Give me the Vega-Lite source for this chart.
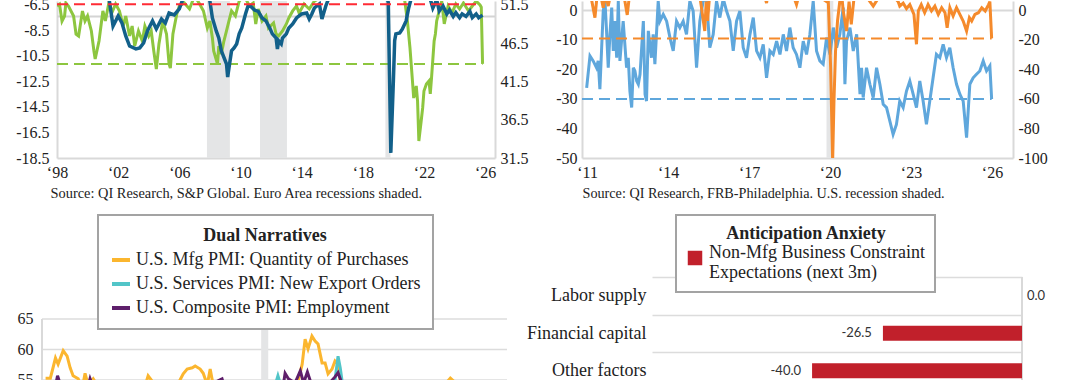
{
  "$schema": "https://vega.github.io/schema/vega-lite/v6.json",
  "background": "white",
  "padding": {"left": 15, "top": -4, "right": 0, "bottom": -8},
  "spacing": 13,
  "resolve": {"scale": {"color": "independent"}, "legend": {"color": "independent"}},
  "config": {
    "view": {"stroke": null},
    "font": "Liberation Serif",
    "locale": {"number": {"decimal": ".", "thousands": ",", "grouping": [3], "currency": ["$", ""], "minus": "-"}},
    "axis": {"labelFont": "Liberation Serif", "labelFontSize": 16, "labelColor": "#222222", "domainColor": "#d9d9d9", "domainWidth": 2, "ticks": false, "grid": false, "labelFlush": false, "labelOverlap": false, "gridColor": "#dcdcdc", "gridWidth": 1.5},
    "legend": {"labelFont": "Liberation Serif", "titleFont": "Liberation Serif", "labelFontSize": 18, "titleFontSize": 18, "titleFontWeight": "bold", "labelColor": "#222222", "titleColor": "#222222", "labelLimit": 400, "titleLimit": 400, "fillColor": "#ffffff", "strokeColor": "#a3a3a3", "titleAnchor": "middle", "strokeWidth": 2}
  },
  "datasets": {
    "tl_rec": [{"d": "2007-10-23", "d2": "2009-04-23"}, {"d": "2011-04-12", "d2": "2013-01-15"}, {"d": "2019-06-25", "d2": "2019-10-23"}],
    "tl_fifty": [{"d": "1998-01-01", "d2": "2026-08-25", "v": 50}],
    "tl_glev": [{"d": "1998-01-01", "d2": "2025-11-01", "v": 43.8}],
    "tl_rlev": [{"d": "1998-01-01", "d2": "2025-10-01", "v": -6.45}],
    "tl_blue": [
      {"d": "1998-01", "v": -5.0}, {"d": "1998-09", "v": -4.6}, {"d": "1999-06", "v": -4.2}, {"d": "2000-03", "v": -3.8}, {"d": "2000-12", "v": -4.5}, {"d": "2001-04", "v": -5.3},
      {"d": "2001-06", "v": -6.1}, {"d": "2001-09", "v": -8.15}, {"d": "2002-01", "v": -7.36}, {"d": "2002-04", "v": -7.9}, {"d": "2002-07", "v": -8.93}, {"d": "2002-10", "v": -9.72},
      {"d": "2003-03", "v": -9.95}, {"d": "2003-06", "v": -9.87}, {"d": "2003-09", "v": -9.48}, {"d": "2003-12", "v": -8.54}, {"d": "2004-04", "v": -7.75}, {"d": "2004-07", "v": -8.38},
      {"d": "2004-11", "v": -7.6}, {"d": "2005-02", "v": -7.91}, {"d": "2005-05", "v": -7.13}, {"d": "2005-09", "v": -7.28}, {"d": "2006-01", "v": -6.81}, {"d": "2006-04", "v": -6.0},
      {"d": "2006-10", "v": -5.2}, {"d": "2007-04", "v": -4.4}, {"d": "2007-09", "v": -5.0}, {"d": "2008-01", "v": -6.19}, {"d": "2008-03", "v": -7.52}, {"d": "2008-06", "v": -8.54},
      {"d": "2008-08", "v": -9.09}, {"d": "2008-10", "v": -10.1}, {"d": "2009-02", "v": -11.13}, {"d": "2009-03", "v": -12.15}, {"d": "2009-04", "v": -11.44}, {"d": "2009-06", "v": -10.1},
      {"d": "2009-08", "v": -9.87}, {"d": "2009-10", "v": -9.56}, {"d": "2009-12", "v": -8.77}, {"d": "2010-02", "v": -8.3}, {"d": "2010-05", "v": -7.21}, {"d": "2010-07", "v": -6.58},
      {"d": "2010-09", "v": -6.6}, {"d": "2010-12", "v": -6.9}, {"d": "2011-03", "v": -7.0}, {"d": "2011-06", "v": -7.52}, {"d": "2011-09", "v": -7.75}, {"d": "2011-12", "v": -8.3},
      {"d": "2012-02", "v": -8.77}, {"d": "2012-05", "v": -9.09}, {"d": "2012-06", "v": -9.95}, {"d": "2012-07", "v": -9.32}, {"d": "2012-09", "v": -9.56}, {"d": "2012-10", "v": -9.09},
      {"d": "2013-01", "v": -8.77}, {"d": "2013-03", "v": -8.3}, {"d": "2013-06", "v": -7.99}, {"d": "2013-09", "v": -7.52}, {"d": "2013-11", "v": -7.36}, {"d": "2014-01", "v": -7.21},
      {"d": "2014-05", "v": -7.13}, {"d": "2014-07", "v": -7.6}, {"d": "2014-09", "v": -7.21}, {"d": "2014-11", "v": -6.74}, {"d": "2015-03", "v": -6.42}, {"d": "2015-05", "v": -7.6},
      {"d": "2015-08", "v": -6.58}, {"d": "2015-11", "v": -5.8}, {"d": "2016-06", "v": -5.0}, {"d": "2017-03", "v": -4.2}, {"d": "2018-01", "v": -3.9}, {"d": "2018-10", "v": -4.4},
      {"d": "2019-06", "v": -5.6}, {"d": "2019-08", "v": -5.9}, {"d": "2019-09", "v": -6.3}, {"d": "2019-10", "v": -12.0}, {"d": "2019-11", "v": -18.1}, {"d": "2020-01", "v": -12.5},
      {"d": "2020-02", "v": -9.3}, {"d": "2020-03", "v": -8.77}, {"d": "2020-06", "v": -8.7}, {"d": "2020-08", "v": -8.4}, {"d": "2020-11", "v": -7.75}, {"d": "2021-01", "v": -6.74},
      {"d": "2021-03", "v": -6.0}, {"d": "2021-09", "v": -5.4}, {"d": "2022-03", "v": -5.0}, {"d": "2022-08", "v": -6.74}, {"d": "2022-11", "v": -6.1}, {"d": "2023-01", "v": -6.97},
      {"d": "2023-04", "v": -6.58}, {"d": "2023-07", "v": -7.2}, {"d": "2023-09", "v": -6.9}, {"d": "2023-12", "v": -7.4}, {"d": "2024-02", "v": -7.1}, {"d": "2024-05", "v": -7.5},
      {"d": "2024-07", "v": -7.2}, {"d": "2024-10", "v": -7.4}, {"d": "2025-01", "v": -7.0}, {"d": "2025-03", "v": -7.5}, {"d": "2025-06", "v": -7.2}, {"d": "2025-08", "v": -7.5},
      {"d": "2025-11", "v": -7.3}
    ],
    "tl_green": [
      {"d": "1998-01", "v": 51.37}, {"d": "1998-03", "v": 51.6}, {"d": "1998-05", "v": 49.4}, {"d": "1998-07", "v": 50.06}, {"d": "1998-08", "v": 51.76}, {"d": "1998-10", "v": 51.37},
      {"d": "1999-02", "v": 50.06}, {"d": "1999-04", "v": 47.7}, {"d": "1999-06", "v": 47.45}, {"d": "1999-09", "v": 50.7}, {"d": "1999-11", "v": 49.4}, {"d": "2000-01", "v": 50.06},
      {"d": "2000-04", "v": 48.1}, {"d": "2000-06", "v": 45.49}, {"d": "2000-07", "v": 44.44}, {"d": "2000-10", "v": 46.79}, {"d": "2001-01", "v": 50.72}, {"d": "2001-03", "v": 49.41},
      {"d": "2001-06", "v": 52.0}, {"d": "2001-08", "v": 50.45}, {"d": "2001-11", "v": 51.63}, {"d": "2002-02", "v": 50.72}, {"d": "2002-05", "v": 48.75}, {"d": "2002-07", "v": 50.06},
      {"d": "2002-10", "v": 47.45}, {"d": "2002-12", "v": 48.75}, {"d": "2003-02", "v": 46.14}, {"d": "2003-05", "v": 48.1}, {"d": "2003-08", "v": 46.79}, {"d": "2003-10", "v": 48.75},
      {"d": "2004-01", "v": 47.45}, {"d": "2004-03", "v": 48.1}, {"d": "2004-05", "v": 45.49}, {"d": "2004-07", "v": 43.13}, {"d": "2004-09", "v": 46.4}, {"d": "2004-12", "v": 49.41},
      {"d": "2005-03", "v": 47.71}, {"d": "2005-05", "v": 43.79}, {"d": "2005-06", "v": 43.26}, {"d": "2005-08", "v": 47.71}, {"d": "2005-11", "v": 50.32}, {"d": "2006-01", "v": 51.37},
      {"d": "2006-05", "v": 51.76}, {"d": "2006-09", "v": 50.98}, {"d": "2007-01", "v": 52.7}, {"d": "2007-05", "v": 51.63}, {"d": "2007-08", "v": 50.72}, {"d": "2007-11", "v": 48.49},
      {"d": "2008-01", "v": 49.41}, {"d": "2008-03", "v": 47.19}, {"d": "2008-04", "v": 45.49}, {"d": "2008-07", "v": 43.79}, {"d": "2008-08", "v": 46.14}, {"d": "2008-10", "v": 45.09},
      {"d": "2008-12", "v": 46.79}, {"d": "2009-02", "v": 48.1}, {"d": "2009-04", "v": 49.41}, {"d": "2009-06", "v": 50.72}, {"d": "2009-09", "v": 50.06}, {"d": "2009-12", "v": 52.0},
      {"d": "2010-04", "v": 52.7}, {"d": "2010-08", "v": 51.37}, {"d": "2010-11", "v": 51.76}, {"d": "2011-01", "v": 49.02}, {"d": "2011-03", "v": 50.98}, {"d": "2011-06", "v": 49.41},
      {"d": "2011-09", "v": 50.06}, {"d": "2011-11", "v": 48.49}, {"d": "2012-03", "v": 49.15}, {"d": "2012-05", "v": 47.71}, {"d": "2012-07", "v": 47.45}, {"d": "2012-10", "v": 48.1},
      {"d": "2013-01", "v": 49.02}, {"d": "2013-03", "v": 49.8}, {"d": "2013-06", "v": 50.72}, {"d": "2013-09", "v": 51.37}, {"d": "2013-11", "v": 50.45}, {"d": "2014-03", "v": 51.63},
      {"d": "2014-07", "v": 50.98}, {"d": "2014-11", "v": 52.0}, {"d": "2015-03", "v": 52.4}, {"d": "2015-11", "v": 53.0}, {"d": "2016-11", "v": 53.5}, {"d": "2017-06", "v": 56.0},
      {"d": "2018-02", "v": 57.0}, {"d": "2018-10", "v": 53.5}, {"d": "2019-06", "v": 52.3}, {"d": "2019-10", "v": 52.4}, {"d": "2020-06", "v": 53.5}, {"d": "2020-10", "v": 52.0},
      {"d": "2020-12", "v": 49.41}, {"d": "2021-02", "v": 45.88}, {"d": "2021-04", "v": 41.57}, {"d": "2021-05", "v": 39.34}, {"d": "2021-07", "v": 40.91}, {"d": "2021-08", "v": 38.95},
      {"d": "2021-09", "v": 33.72}, {"d": "2021-11", "v": 36.6}, {"d": "2021-12", "v": 38.04}, {"d": "2022-01", "v": 40.26}, {"d": "2022-03", "v": 41.17}, {"d": "2022-05", "v": 41.57},
      {"d": "2022-06", "v": 39.87}, {"d": "2022-07", "v": 41.96}, {"d": "2022-09", "v": 46.79}, {"d": "2022-10", "v": 47.71}, {"d": "2022-11", "v": 49.41}, {"d": "2023-01", "v": 50.72},
      {"d": "2023-03", "v": 52.0}, {"d": "2023-05", "v": 49.02}, {"d": "2023-08", "v": 51.37}, {"d": "2023-11", "v": 50.45}, {"d": "2024-02", "v": 51.63}, {"d": "2024-05", "v": 50.98},
      {"d": "2024-08", "v": 51.76}, {"d": "2024-12", "v": 50.72}, {"d": "2025-03", "v": 51.37}, {"d": "2025-06", "v": 52.0}, {"d": "2025-09", "v": 51.5}, {"d": "2025-10", "v": 51.2},
      {"d": "2025-11", "v": 43.8}
    ],
    "tr_rec": [{"d": "2019-11-15", "d2": "2020-02-15"}],
    "tr_zero": [{"d": "2010-10-25", "d2": "2026-10-12", "v": 0}],
    "tr_blev": [{"d": "2010-10-25", "d2": "2025-12-27", "v": -30}],
    "tr_olev": [{"d": "2010-10-25", "d2": "2025-12-27", "v": -18.9}],
    "tr_blue": [
      {"d": "2010-12-27", "v": -26.2}, {"d": "2011-02-10", "v": -15.4}, {"d": "2011-03-25", "v": -17.1}, {"d": "2011-05-09", "v": -19.4}, {"d": "2011-06-01", "v": -17.1}, {"d": "2011-06-24", "v": -26.7},
      {"d": "2011-08-08", "v": -0.2}, {"d": "2011-09-01", "v": 3.2}, {"d": "2011-09-22", "v": -6.9}, {"d": "2011-10-15", "v": -19.4}, {"d": "2011-11-07", "v": -8.1}, {"d": "2011-12-01", "v": 1.0},
      {"d": "2011-12-22", "v": -13.7}, {"d": "2012-01-13", "v": -3.6}, {"d": "2012-02-06", "v": -16.0}, {"d": "2012-02-28", "v": 3.2}, {"d": "2012-03-21", "v": -17.1}, {"d": "2012-05-04", "v": -3.6},
      {"d": "2012-06-19", "v": -19.4}, {"d": "2012-07-12", "v": -16.0}, {"d": "2012-08-03", "v": -27.3}, {"d": "2012-08-27", "v": -32.9}, {"d": "2012-09-18", "v": -19.4}, {"d": "2012-10-10", "v": -20.5},
      {"d": "2012-11-03", "v": -23.9}, {"d": "2012-11-25", "v": -25.0}, {"d": "2012-12-18", "v": -21.6}, {"d": "2013-02-01", "v": -3.6}, {"d": "2013-02-24", "v": -28.4}, {"d": "2013-03-16", "v": -30.7},
      {"d": "2013-04-09", "v": -6.9}, {"d": "2013-05-22", "v": -16.0}, {"d": "2013-06-14", "v": -8.1}, {"d": "2013-07-07", "v": -18.2}, {"d": "2013-08-21", "v": 3.2}, {"d": "2013-09-13", "v": -3.6},
      {"d": "2013-10-28", "v": -1.3}, {"d": "2013-12-13", "v": -3.6}, {"d": "2014-01-27", "v": -9.2}, {"d": "2014-03-12", "v": -13.7}, {"d": "2014-04-26", "v": -3.6}, {"d": "2014-06-10", "v": -5.8},
      {"d": "2014-07-25", "v": -3.6}, {"d": "2014-09-08", "v": -8.1}, {"d": "2014-10-23", "v": 3.2}, {"d": "2014-12-07", "v": -0.2}, {"d": "2015-01-22", "v": -19.4}, {"d": "2015-03-07", "v": -3.6},
      {"d": "2015-04-21", "v": 3.2}, {"d": "2015-06-05", "v": 4.0}, {"d": "2015-07-20", "v": -12.6}, {"d": "2015-09-04", "v": -8.1}, {"d": "2015-10-19", "v": 3.2}, {"d": "2015-12-03", "v": -2.4},
      {"d": "2016-01-18", "v": 4.0}, {"d": "2016-03-03", "v": -0.2}, {"d": "2016-04-17", "v": -3.6}, {"d": "2016-06-01", "v": -13.7}, {"d": "2016-07-16", "v": -3.6}, {"d": "2016-08-30", "v": -0.2},
      {"d": "2016-10-14", "v": -12.6}, {"d": "2016-11-28", "v": -16.0}, {"d": "2017-01-13", "v": -8.1}, {"d": "2017-02-27", "v": -2.4}, {"d": "2017-04-13", "v": -13.7}, {"d": "2017-05-28", "v": -16.0},
      {"d": "2017-07-12", "v": -11.5}, {"d": "2017-08-26", "v": -22.8}, {"d": "2017-10-10", "v": -13.7}, {"d": "2017-11-24", "v": -14.9}, {"d": "2018-01-09", "v": -10.4}, {"d": "2018-02-23", "v": -14.9},
      {"d": "2018-04-09", "v": -8.1}, {"d": "2018-05-23", "v": -13.7}, {"d": "2018-07-07", "v": -5.8}, {"d": "2018-08-21", "v": -12.6}, {"d": "2018-10-05", "v": -14.9}, {"d": "2018-11-20", "v": -19.4},
      {"d": "2019-01-04", "v": -10.4}, {"d": "2019-02-18", "v": -14.9}, {"d": "2019-04-04", "v": -8.1}, {"d": "2019-05-19", "v": 3.2}, {"d": "2019-07-03", "v": -13.7}, {"d": "2019-08-17", "v": -17.1},
      {"d": "2019-10-01", "v": -18.2}, {"d": "2019-11-16", "v": -9.2}, {"d": "2020-01-01", "v": -14.9}, {"d": "2020-02-15", "v": -5.8}, {"d": "2020-03-31", "v": -12.6}, {"d": "2020-05-13", "v": -8.1},
      {"d": "2020-06-28", "v": 1.0}, {"d": "2020-07-21", "v": -25.0}, {"d": "2020-08-12", "v": -10.4}, {"d": "2020-09-27", "v": -5.8}, {"d": "2020-11-11", "v": -13.7}, {"d": "2020-12-27", "v": -8.1},
      {"d": "2021-02-10", "v": -28.4}, {"d": "2021-03-03", "v": -19.4}, {"d": "2021-03-25", "v": -29.5}, {"d": "2021-05-09", "v": -19.4}, {"d": "2021-06-24", "v": -25.0}, {"d": "2021-08-08", "v": -29.5},
      {"d": "2021-09-22", "v": -19.4}, {"d": "2021-11-06", "v": -25.0}, {"d": "2021-12-21", "v": -31.8}, {"d": "2022-02-04", "v": -32.9}, {"d": "2022-03-21", "v": -37.5}, {"d": "2022-05-04", "v": -42.0},
      {"d": "2022-06-18", "v": -38.6}, {"d": "2022-08-02", "v": -30.7}, {"d": "2022-09-17", "v": -32.9}, {"d": "2022-11-01", "v": -27.3}, {"d": "2022-12-16", "v": -23.9}, {"d": "2023-01-31", "v": -28.4},
      {"d": "2023-03-16", "v": -32.9}, {"d": "2023-04-30", "v": -23.9}, {"d": "2023-06-14", "v": -30.7}, {"d": "2023-07-29", "v": -38.6}, {"d": "2023-09-12", "v": -30.7}, {"d": "2023-10-27", "v": -22.8},
      {"d": "2023-12-11", "v": -14.9}, {"d": "2024-01-26", "v": -16.0}, {"d": "2024-03-11", "v": -11.5}, {"d": "2024-04-25", "v": -16.0}, {"d": "2024-06-09", "v": -12.6}, {"d": "2024-07-24", "v": -19.4},
      {"d": "2024-09-08", "v": -25.0}, {"d": "2024-10-23", "v": -28.4}, {"d": "2024-12-07", "v": -30.7}, {"d": "2025-01-22", "v": -43.1}, {"d": "2025-03-07", "v": -25.0}, {"d": "2025-04-21", "v": -22.8},
      {"d": "2025-06-05", "v": -21.6}, {"d": "2025-07-20", "v": -20.5}, {"d": "2025-09-04", "v": -17.1}, {"d": "2025-10-19", "v": -20.5}, {"d": "2025-12-03", "v": -18.8}, {"d": "2025-12-27", "v": -30.0}
    ],
    "tr_orange": [
      {"d": "2011-01-01", "v": 12}, {"d": "2011-03-01", "v": 8}, {"d": "2011-04-18", "v": -4.9}, {"d": "2011-05-15", "v": 9}, {"d": "2011-06-20", "v": 14}, {"d": "2011-08-08", "v": 1.9},
      {"d": "2011-09-10", "v": 11}, {"d": "2011-10-15", "v": 3.0}, {"d": "2011-12-01", "v": 15}, {"d": "2012-03-01", "v": 18}, {"d": "2012-05-15", "v": 10}, {"d": "2012-06-28", "v": -3.0},
      {"d": "2012-08-01", "v": 12}, {"d": "2013-01-01", "v": 20}, {"d": "2013-08-01", "v": 16}, {"d": "2014-03-01", "v": 22}, {"d": "2014-10-01", "v": 18}, {"d": "2015-03-01", "v": 12},
      {"d": "2015-05-13", "v": -13.9}, {"d": "2015-06-01", "v": 6}, {"d": "2015-06-20", "v": -7.1}, {"d": "2015-07-20", "v": 12}, {"d": "2016-03-01", "v": 10}, {"d": "2016-10-01", "v": 14},
      {"d": "2017-06-01", "v": 20}, {"d": "2017-08-26", "v": 5.0}, {"d": "2017-10-01", "v": 18}, {"d": "2018-06-01", "v": 22}, {"d": "2018-10-05", "v": 4.0}, {"d": "2018-12-01", "v": 15},
      {"d": "2019-06-01", "v": 12}, {"d": "2019-11-16", "v": 6.0}, {"d": "2019-12-09", "v": 6.4}, {"d": "2020-01-10", "v": -38.8}, {"d": "2020-02-06", "v": -102}, {"d": "2020-02-24", "v": -61.4},
      {"d": "2020-03-16", "v": -27.5}, {"d": "2020-04-12", "v": -7.1}, {"d": "2020-05-13", "v": 6.4}, {"d": "2020-06-05", "v": 12}, {"d": "2020-06-28", "v": -0.3}, {"d": "2020-08-12", "v": -13.9},
      {"d": "2020-09-15", "v": 6.0}, {"d": "2020-10-15", "v": -9.4}, {"d": "2020-11-20", "v": 8}, {"d": "2021-03-01", "v": 14}, {"d": "2021-08-08", "v": 3.0}, {"d": "2021-12-01", "v": 12},
      {"d": "2022-05-01", "v": 10}, {"d": "2022-07-12", "v": 6.0}, {"d": "2022-08-02", "v": 3.0}, {"d": "2022-09-17", "v": 5.0}, {"d": "2022-11-01", "v": 1.3}, {"d": "2022-12-16", "v": 4.0},
      {"d": "2023-02-10", "v": -2.6}, {"d": "2023-03-16", "v": -22.9}, {"d": "2023-04-10", "v": -0.3}, {"d": "2023-05-20", "v": 4.0}, {"d": "2023-07-05", "v": -1.5}, {"d": "2023-08-20", "v": 4.0},
      {"d": "2023-10-05", "v": -0.3}, {"d": "2023-11-20", "v": 3.0}, {"d": "2024-01-05", "v": -2.6}, {"d": "2024-02-20", "v": 1.9}, {"d": "2024-04-05", "v": -1.5}, {"d": "2024-05-04", "v": -11.7},
      {"d": "2024-06-10", "v": 1.9}, {"d": "2024-07-24", "v": -3.7}, {"d": "2024-09-08", "v": 1.9}, {"d": "2024-10-23", "v": -2.6}, {"d": "2024-12-07", "v": -7.1}, {"d": "2025-01-22", "v": -13.9},
      {"d": "2025-03-01", "v": -4.9}, {"d": "2025-04-01", "v": -7.1}, {"d": "2025-05-15", "v": -2.6}, {"d": "2025-07-01", "v": -1.5}, {"d": "2025-08-15", "v": 1.9}, {"d": "2025-10-01", "v": -0.3},
      {"d": "2025-11-15", "v": 4.0}, {"d": "2025-12-03", "v": 6.0}, {"d": "2025-12-27", "v": -18.9}
    ],
    "bl_rec": [{"d": "2020-02-05", "d2": "2020-04-10", "v": 65, "v2": 53.44}],
    "bl_grid": [{"d": "2014-07-30", "d2": "2026-04-15", "v": 55}, {"d": "2014-07-30", "d2": "2026-04-15", "v": 60}, {"d": "2014-07-30", "d2": "2026-04-15", "v": 65}],
    "bl_axis": [{"d": "2014-07-30", "v": 53.44, "v2": 65}],
    "bl": [
      {"s": "U.S. Mfg PMI: Quantity of Purchases", "d": "2014-09-01", "v": 55.3}, {"s": "U.S. Mfg PMI: Quantity of Purchases", "d": "2014-10-15", "v": 55.3},
      {"s": "U.S. Mfg PMI: Quantity of Purchases", "d": "2014-12-01", "v": 58.6}, {"s": "U.S. Mfg PMI: Quantity of Purchases", "d": "2014-12-25", "v": 57.6},
      {"s": "U.S. Mfg PMI: Quantity of Purchases", "d": "2015-02-10", "v": 59.8}, {"s": "U.S. Mfg PMI: Quantity of Purchases", "d": "2015-03-18", "v": 58.9},
      {"s": "U.S. Mfg PMI: Quantity of Purchases", "d": "2015-04-15", "v": 57.0}, {"s": "U.S. Mfg PMI: Quantity of Purchases", "d": "2015-05-12", "v": 55.7},
      {"s": "U.S. Mfg PMI: Quantity of Purchases", "d": "2015-06-28", "v": 55.2}, {"s": "U.S. Mfg PMI: Quantity of Purchases", "d": "2015-08-03", "v": 53.5},
      {"s": "U.S. Mfg PMI: Quantity of Purchases", "d": "2015-08-30", "v": 56.1}, {"s": "U.S. Mfg PMI: Quantity of Purchases", "d": "2015-09-27", "v": 54.2},
      {"s": "U.S. Mfg PMI: Quantity of Purchases", "d": "2015-11-13", "v": 55.2}, {"s": "U.S. Mfg PMI: Quantity of Purchases", "d": "2016-01-15", "v": 53.0},
      {"s": "U.S. Mfg PMI: Quantity of Purchases", "d": "2016-06-01", "v": 51.5}, {"s": "U.S. Mfg PMI: Quantity of Purchases", "d": "2016-10-20", "v": 52.5},
      {"s": "U.S. Mfg PMI: Quantity of Purchases", "d": "2017-03-03", "v": 54.0}, {"s": "U.S. Mfg PMI: Quantity of Purchases", "d": "2017-04-01", "v": 55.7},
      {"s": "U.S. Mfg PMI: Quantity of Purchases", "d": "2017-05-08", "v": 54.8}, {"s": "U.S. Mfg PMI: Quantity of Purchases", "d": "2017-09-05", "v": 53.8},
      {"s": "U.S. Mfg PMI: Quantity of Purchases", "d": "2018-01-05", "v": 54.5}, {"s": "U.S. Mfg PMI: Quantity of Purchases", "d": "2018-02-18", "v": 56.0},
      {"s": "U.S. Mfg PMI: Quantity of Purchases", "d": "2018-03-26", "v": 56.8}, {"s": "U.S. Mfg PMI: Quantity of Purchases", "d": "2018-05-12", "v": 57.0},
      {"s": "U.S. Mfg PMI: Quantity of Purchases", "d": "2018-06-08", "v": 57.3}, {"s": "U.S. Mfg PMI: Quantity of Purchases", "d": "2018-07-24", "v": 56.8},
      {"s": "U.S. Mfg PMI: Quantity of Purchases", "d": "2018-08-21", "v": 56.1}, {"s": "U.S. Mfg PMI: Quantity of Purchases", "d": "2018-09-27", "v": 54.2},
      {"s": "U.S. Mfg PMI: Quantity of Purchases", "d": "2018-10-24", "v": 56.8}, {"s": "U.S. Mfg PMI: Quantity of Purchases", "d": "2018-11-20", "v": 54.2},
      {"s": "U.S. Mfg PMI: Quantity of Purchases", "d": "2019-01-22", "v": 53.5}, {"s": "U.S. Mfg PMI: Quantity of Purchases", "d": "2019-06-10", "v": 51.8},
      {"s": "U.S. Mfg PMI: Quantity of Purchases", "d": "2019-10-27", "v": 51.0}, {"s": "U.S. Mfg PMI: Quantity of Purchases", "d": "2020-02-12", "v": 49.0},
      {"s": "U.S. Mfg PMI: Quantity of Purchases", "d": "2020-03-20", "v": 40.0}, {"s": "U.S. Mfg PMI: Quantity of Purchases", "d": "2020-05-15", "v": 45.0},
      {"s": "U.S. Mfg PMI: Quantity of Purchases", "d": "2020-09-12", "v": 52.0}, {"s": "U.S. Mfg PMI: Quantity of Purchases", "d": "2020-12-12", "v": 54.0},
      {"s": "U.S. Mfg PMI: Quantity of Purchases", "d": "2021-01-10", "v": 54.8}, {"s": "U.S. Mfg PMI: Quantity of Purchases", "d": "2021-02-16", "v": 57.6},
      {"s": "U.S. Mfg PMI: Quantity of Purchases", "d": "2021-03-15", "v": 61.7}, {"s": "U.S. Mfg PMI: Quantity of Purchases", "d": "2021-04-11", "v": 60.1},
      {"s": "U.S. Mfg PMI: Quantity of Purchases", "d": "2021-05-17", "v": 62.2}, {"s": "U.S. Mfg PMI: Quantity of Purchases", "d": "2021-06-15", "v": 61.4},
      {"s": "U.S. Mfg PMI: Quantity of Purchases", "d": "2021-07-12", "v": 60.9}, {"s": "U.S. Mfg PMI: Quantity of Purchases", "d": "2021-08-18", "v": 57.8},
      {"s": "U.S. Mfg PMI: Quantity of Purchases", "d": "2021-09-15", "v": 57.8}, {"s": "U.S. Mfg PMI: Quantity of Purchases", "d": "2021-10-12", "v": 56.0},
      {"s": "U.S. Mfg PMI: Quantity of Purchases", "d": "2021-11-18", "v": 56.8}, {"s": "U.S. Mfg PMI: Quantity of Purchases", "d": "2021-12-15", "v": 58.1},
      {"s": "U.S. Mfg PMI: Quantity of Purchases", "d": "2022-01-12", "v": 57.6}, {"s": "U.S. Mfg PMI: Quantity of Purchases", "d": "2022-02-01", "v": 54.8},
      {"s": "U.S. Mfg PMI: Quantity of Purchases", "d": "2022-05-01", "v": 52.5}, {"s": "U.S. Mfg PMI: Quantity of Purchases", "d": "2023-02-05", "v": 49.0},
      {"s": "U.S. Mfg PMI: Quantity of Purchases", "d": "2023-11-06", "v": 51.0}, {"s": "U.S. Mfg PMI: Quantity of Purchases", "d": "2024-08-10", "v": 52.5},
      {"s": "U.S. Mfg PMI: Quantity of Purchases", "d": "2024-11-10", "v": 55.3}, {"s": "U.S. Mfg PMI: Quantity of Purchases", "d": "2024-12-10", "v": 54.8},
      {"s": "U.S. Mfg PMI: Quantity of Purchases", "d": "2025-08-10", "v": 52.0}, {"s": "U.S. Mfg PMI: Quantity of Purchases", "d": "2026-03-25", "v": 51.0},
      {"s": "U.S. Services PMI: New Export Orders", "d": "2014-09-01", "v": 51.0}, {"s": "U.S. Services PMI: New Export Orders", "d": "2016-01-01", "v": 52.0},
      {"s": "U.S. Services PMI: New Export Orders", "d": "2018-01-01", "v": 52.5}, {"s": "U.S. Services PMI: New Export Orders", "d": "2019-06-01", "v": 51.0},
      {"s": "U.S. Services PMI: New Export Orders", "d": "2020-03-20", "v": 38.0}, {"s": "U.S. Services PMI: New Export Orders", "d": "2020-06-01", "v": 50.0},
      {"s": "U.S. Services PMI: New Export Orders", "d": "2020-07-08", "v": 55.7}, {"s": "U.S. Services PMI: New Export Orders", "d": "2020-08-15", "v": 53.0},
      {"s": "U.S. Services PMI: New Export Orders", "d": "2021-03-01", "v": 54.0}, {"s": "U.S. Services PMI: New Export Orders", "d": "2021-07-20", "v": 53.0},
      {"s": "U.S. Services PMI: New Export Orders", "d": "2021-12-15", "v": 55.0}, {"s": "U.S. Services PMI: New Export Orders", "d": "2022-01-12", "v": 58.9},
      {"s": "U.S. Services PMI: New Export Orders", "d": "2022-02-01", "v": 57.0}, {"s": "U.S. Services PMI: New Export Orders", "d": "2022-03-01", "v": 53.0},
      {"s": "U.S. Services PMI: New Export Orders", "d": "2023-07-20", "v": 50.0}, {"s": "U.S. Services PMI: New Export Orders", "d": "2026-02-20", "v": 49.0},
      {"s": "U.S. Composite PMI: Employment", "d": "2014-09-01", "v": 52.5}, {"s": "U.S. Composite PMI: Employment", "d": "2014-12-01", "v": 54.0},
      {"s": "U.S. Composite PMI: Employment", "d": "2014-12-20", "v": 55.7}, {"s": "U.S. Composite PMI: Employment", "d": "2015-01-05", "v": 54.8},
      {"s": "U.S. Composite PMI: Employment", "d": "2015-03-01", "v": 53.0}, {"s": "U.S. Composite PMI: Employment", "d": "2015-09-27", "v": 54.0},
      {"s": "U.S. Composite PMI: Employment", "d": "2015-10-15", "v": 55.2}, {"s": "U.S. Composite PMI: Employment", "d": "2015-11-13", "v": 53.8},
      {"s": "U.S. Composite PMI: Employment", "d": "2016-10-20", "v": 52.0}, {"s": "U.S. Composite PMI: Employment", "d": "2018-07-24", "v": 53.0},
      {"s": "U.S. Composite PMI: Employment", "d": "2019-02-10", "v": 55.2}, {"s": "U.S. Composite PMI: Employment", "d": "2019-03-10", "v": 53.5},
      {"s": "U.S. Composite PMI: Employment", "d": "2019-10-27", "v": 51.0}, {"s": "U.S. Composite PMI: Employment", "d": "2020-03-25", "v": 35.0},
      {"s": "U.S. Composite PMI: Employment", "d": "2020-06-15", "v": 48.0}, {"s": "U.S. Composite PMI: Employment", "d": "2020-08-25", "v": 54.0},
      {"s": "U.S. Composite PMI: Employment", "d": "2020-09-12", "v": 56.1}, {"s": "U.S. Composite PMI: Employment", "d": "2020-10-12", "v": 55.2},
      {"s": "U.S. Composite PMI: Employment", "d": "2020-12-12", "v": 54.5}, {"s": "U.S. Composite PMI: Employment", "d": "2021-01-30", "v": 56.5},
      {"s": "U.S. Composite PMI: Employment", "d": "2021-03-01", "v": 54.5}, {"s": "U.S. Composite PMI: Employment", "d": "2021-04-05", "v": 56.3},
      {"s": "U.S. Composite PMI: Employment", "d": "2021-05-17", "v": 54.0}, {"s": "U.S. Composite PMI: Employment", "d": "2021-10-01", "v": 54.0},
      {"s": "U.S. Composite PMI: Employment", "d": "2021-12-15", "v": 55.5}, {"s": "U.S. Composite PMI: Employment", "d": "2022-01-12", "v": 56.2},
      {"s": "U.S. Composite PMI: Employment", "d": "2022-02-05", "v": 55.0}, {"s": "U.S. Composite PMI: Employment", "d": "2022-03-20", "v": 53.0},
      {"s": "U.S. Composite PMI: Employment", "d": "2023-07-20", "v": 51.0}, {"s": "U.S. Composite PMI: Employment", "d": "2026-02-20", "v": 50.0}
    ],
    "br": [
      {"c": "Labor supply", "v": 0.0, "s": "Non-Mfg Business Constraint Expectations (next 3m)"},
      {"c": "Financial capital", "v": -26.5, "s": "Non-Mfg Business Constraint Expectations (next 3m)"},
      {"c": "Other factors", "v": -40.0, "s": "Non-Mfg Business Constraint Expectations (next 3m)"}
    ]
  },
  "vconcat": [
    {
      "hconcat": [
        {
          "width": 438, "height": 157,
          "encoding": {
            "x": {"field": "d", "type": "temporal",
              "scale": {"domain": [{"year": 1998, "month": 1, "date": 1}, {"year": 2026, "month": 8, "date": 25}], "nice": false},
              "axis": {"values": [{"year": 1998, "month": 1, "date": 1}, {"year": 2002, "month": 1, "date": 1}, {"year": 2006, "month": 1, "date": 1}, {"year": 2010, "month": 1, "date": 1}, {"year": 2014, "month": 1, "date": 1}, {"year": 2018, "month": 1, "date": 1}, {"year": 2022, "month": 1, "date": 1}, {"year": 2026, "month": 1, "date": 1}],
                "format": "‘%y", "labelPadding": 6,
                "title": "Source: QI Research, S&P Global. Euro Area recessions shaded.",
                "titleAnchor": "start", "titleAlign": "left", "titleX": -7, "titleY": 35, "titleBaseline": "middle",
                "titleFont": "Liberation Serif", "titleFontSize": 14.4, "titleFontWeight": "normal", "titleColor": "#222222"}}
          },
          "layer": [
            {"data": {"name": "tl_rec"}, "mark": {"type": "rect", "color": "#e4e5e6"}, "encoding": {"x2": {"field": "d2"}}},
            {
              "encoding": {"y": {"field": "v", "type": "quantitative", "scale": {"domain": [31.5, 52.02], "nice": false, "zero": false},
                "axis": {"orient": "right", "values": [31.5, 36.5, 41.5, 46.5, 51.5], "format": ".1f", "title": null, "labelPadding": 5}}},
              "layer": [
                {"data": {"name": "tl_fifty"}, "mark": {"type": "rule", "color": "#d4d4d4", "strokeWidth": 2}, "encoding": {"x2": {"field": "d2"}}},
                {"data": {"name": "tl_green"}, "mark": {"type": "line", "color": "#8dc63f", "strokeWidth": 3, "clip": true}, "encoding": {}},
                {"data": {"name": "tl_glev"}, "mark": {"type": "rule", "color": "#8dc63f", "strokeWidth": 2, "strokeDash": [11, 6]}, "encoding": {"x2": {"field": "d2"}}}
              ]
            },
            {
              "encoding": {"y": {"field": "v", "type": "quantitative", "scale": {"domain": [-18.5, -6.19], "nice": false, "zero": false},
                "axis": {"orient": "left", "values": [-18.5, -16.5, -14.5, -12.5, -10.5, -8.5, -6.5], "format": ".1f", "title": null, "labelPadding": 8}}},
              "layer": [
                {"data": {"name": "tl_blue"}, "mark": {"type": "line", "color": "#12608a", "strokeWidth": 3.5, "clip": true}, "encoding": {}},
                {"data": {"name": "tl_rlev"}, "mark": {"type": "rule", "color": "#ff2b35", "strokeWidth": 2, "strokeDash": [11, 6]}, "encoding": {"x2": {"field": "d2"}}}
              ]
            }
          ],
          "resolve": {"scale": {"y": "independent"}}
        },
        {
          "width": 431, "height": 157,
          "encoding": {
            "x": {"field": "d", "type": "temporal",
              "scale": {"domain": [{"year": 2010, "month": 10, "date": 25}, {"year": 2026, "month": 10, "date": 12}], "nice": false},
              "axis": {"values": [{"year": 2011, "month": 1, "date": 1}, {"year": 2014, "month": 1, "date": 1}, {"year": 2017, "month": 1, "date": 1}, {"year": 2020, "month": 1, "date": 1}, {"year": 2023, "month": 1, "date": 1}, {"year": 2026, "month": 1, "date": 1}],
                "format": "‘%y", "labelPadding": 6,
                "title": "Source: QI Research, FRB-Philadelphia. U.S. recession shaded.",
                "titleAnchor": "start", "titleAlign": "left", "titleX": 0, "titleY": 35, "titleBaseline": "middle",
                "titleFont": "Liberation Serif", "titleFontSize": 14.2, "titleFontWeight": "normal", "titleColor": "#222222"}}
          },
          "layer": [
            {"data": {"name": "tr_rec"}, "mark": {"type": "rect", "color": "#e4e5e6"}, "encoding": {"x2": {"field": "d2"}}},
            {
              "encoding": {"y": {"field": "v", "type": "quantitative", "scale": {"domain": [-50, 3.22], "nice": false, "zero": false},
                "axis": {"orient": "left", "values": [-50, -40, -30, -20, -10, 0], "title": null, "labelPadding": 5}}},
              "layer": [
                {"data": {"name": "tr_zero"}, "mark": {"type": "rule", "color": "#d9d9d9", "strokeWidth": 2}, "encoding": {"x2": {"field": "d2"}}},
                {"data": {"name": "tr_blue"}, "mark": {"type": "line", "color": "#5fa7dc", "strokeWidth": 3, "clip": true}, "encoding": {}},
                {"data": {"name": "tr_blev"}, "mark": {"type": "rule", "color": "#5fa7dc", "strokeWidth": 2, "strokeDash": [11, 6]}, "encoding": {"x2": {"field": "d2"}}}
              ]
            },
            {
              "encoding": {"y": {"field": "v", "type": "quantitative", "scale": {"domain": [-100, 6.44], "nice": false, "zero": false},
                "axis": {"orient": "right", "values": [-100, -80, -60, -40, -20, 0], "title": null, "labelPadding": 5}}},
              "layer": [
                {"data": {"name": "tr_orange"}, "mark": {"type": "line", "color": "#f58a2b", "strokeWidth": 3, "clip": true}, "encoding": {}},
                {"data": {"name": "tr_olev"}, "mark": {"type": "rule", "color": "#f58a2b", "strokeWidth": 2, "strokeDash": [11, 6]}, "encoding": {"x2": {"field": "d2"}}}
              ]
            }
          ],
          "resolve": {"scale": {"y": "independent"}}
        }
      ],
      "spacing": 87,
      "bounds": "flush"
    },
    {
      "resolve": {"scale": {"color": "independent"}, "legend": {"color": "independent"}},
      "hconcat": [
        {
          "width": 450, "height": 112.5,
          "encoding": {
            "x": {"field": "d", "type": "temporal",
              "scale": {"domain": [{"year": 2014, "month": 7, "date": 30}, {"year": 2026, "month": 4, "date": 15}], "range": [-15, 450], "nice": false},
              "axis": null}
          },
          "layer": [
            {"data": {"name": "bl_grid"}, "mark": {"type": "rule", "color": "#dcdcdc", "strokeWidth": 1.5},
              "encoding": {"x2": {"field": "d2"}, "y": {"field": "v", "type": "quantitative", "scale": {"domain": [53.44, 71.885], "nice": false, "zero": false, "clamp": true}}}},
            {"data": {"name": "bl_rec"}, "mark": {"type": "rect", "color": "#e4e5e6"},
              "encoding": {"x2": {"field": "d2"}, "y": {"field": "v", "type": "quantitative", "scale": {"domain": [53.44, 71.885], "nice": false, "zero": false, "clamp": true}}, "y2": {"field": "v2"}}},
            {"data": {"name": "bl_axis"}, "mark": {"type": "rule", "color": "#d9d9d9", "strokeWidth": 2},
              "encoding": {"y": {"field": "v", "type": "quantitative", "scale": {"domain": [53.44, 71.885], "nice": false, "zero": false, "clamp": true}}, "y2": {"field": "v2"}}},
            {"data": {"name": "bl"}, "mark": {"type": "line", "strokeWidth": 3},
              "encoding": {
                "y": {"field": "v", "type": "quantitative", "scale": {"domain": [53.44, 71.885], "nice": false, "zero": false, "clamp": true},
                  "axis": {"values": [55, 60, 65], "title": null, "domain": false, "grid": false, "labelPadding": 24}},
                "color": {"field": "s", "type": "nominal",
                  "scale": {"domain": ["U.S. Mfg PMI: Quantity of Purchases", "U.S. Services PMI: New Export Orders", "U.S. Composite PMI: Employment"], "range": ["#fbb62f", "#52c5c8", "#5e1f6b"]},
                  "legend": {"orient": "none", "legendX": 41, "legendY": -62, "title": "Dual Narratives", "symbolType": "stroke", "symbolStrokeWidth": 4, "symbolSize": 324, "padding": 12, "rowPadding": 4, "titlePadding": 4, "labelOffset": 4}}
              }
            }
          ]
        },
        {
          "width": 370, "height": {"step": 37.5},
          "data": {"name": "br"},
          "layer": [
            {"mark": {"type": "rule", "color": "#d9d9d9", "strokeWidth": 2},
              "encoding": {"x": {"datum": 0, "type": "quantitative", "scale": {"domain": [-70.5, 0], "nice": false, "zero": false}, "axis": null}}},
            {"mark": {"type": "bar", "size": 15},
              "encoding": {
                "y": {"field": "c", "type": "nominal", "sort": null, "scale": {"paddingInner": 0, "paddingOuter": 0},
                  "axis": {"title": null, "domain": false, "grid": true, "tickBand": "extent", "labelFontSize": 18, "labelPadding": 6, "labelLimit": 400}},
                "x": {"field": "v", "type": "quantitative", "scale": {"domain": [-70.5, 0], "nice": false, "zero": false}, "axis": null},
                "color": {"field": "s", "type": "nominal", "scale": {"range": ["#c1202b"]},
                  "legend": {"orient": "none", "legendX": 24, "legendY": -62, "title": "Anticipation Anxiety", "symbolType": "square", "symbolSize": 210, "padding": 10, "titlePadding": 6, "labelOffset": 5,
                    "labelExpr": "['Non-Mfg Business Constraint', 'Expectations (next 3m)']", "labelBaseline": "alphabetic"}}
              }
            },
            {"transform": [{"filter": "datum.v < 0"}],
              "mark": {"type": "text", "align": "right", "dx": -11, "font": "Lato", "fontSize": 13, "color": "#333333"},
              "encoding": {
                "y": {"field": "c", "type": "nominal", "sort": null, "scale": {"paddingInner": 0, "paddingOuter": 0}},
                "x": {"field": "v", "type": "quantitative", "scale": {"domain": [-70.5, 0], "nice": false, "zero": false}, "axis": null},
                "text": {"field": "v", "type": "quantitative", "format": ".1f"}
              }
            },
            {"transform": [{"filter": "datum.v == 0"}],
              "mark": {"type": "text", "align": "left", "dx": 5, "font": "Lato", "fontSize": 13, "color": "#333333"},
              "encoding": {
                "y": {"field": "c", "type": "nominal", "sort": null, "scale": {"paddingInner": 0, "paddingOuter": 0}},
                "x": {"field": "v", "type": "quantitative", "scale": {"domain": [-70.5, 0], "nice": false, "zero": false}, "axis": null},
                "text": {"field": "v", "type": "quantitative", "format": ".1f"}
              }
            }
          ]
        }
      ],
      "spacing": 15
    }
  ]
}
